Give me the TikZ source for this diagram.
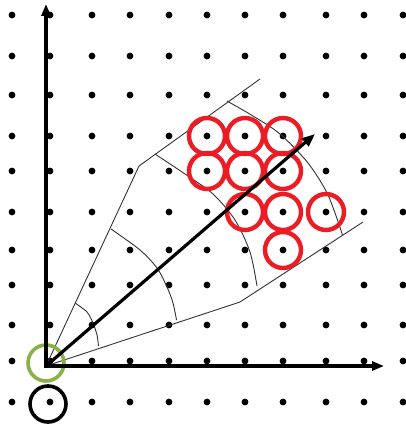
\documentclass[tikz,border=0pt]{standalone}
\usetikzlibrary{arrows.meta}
\definecolor{redc}{RGB}{236,28,36}
\definecolor{greenc}{RGB}{138,176,72}
\begin{document}
\begin{tikzpicture}[x=1pt,y=-1pt,
  axisline/.style={line width=3.6pt,-{Triangle[length=12pt,width=9pt]}},
  bigarrow/.style={line width=3.2pt,-{Triangle[length=13pt,width=10pt]}},
  thinline/.style={line width=0.9pt,black!80,line join=round},
  redcirc/.style={draw=redc,line width=4.4pt},
  ringstyle/.style={line width=3.6pt},
]
\useasboundingbox (0,0) rectangle (405,428);
\fill[white] (0,0) rectangle (405,428);
% dot grid
\foreach \x in {12,50,92,130,169,207,245,283,326,364,403}
  \foreach \y in {15,56,95,136,171,212,250,285,325,361,402}
    \fill (\x,\y) circle (3.4pt);
% key points
\coordinate (O) at (46,366);
\coordinate (ytip) at (46,4);
\coordinate (xtip) at (384,366);
\coordinate (atip) at (315,134);
\coordinate (ku) at (139,166);
\coordinate (kl) at (240,302);
\coordinate (eu) at (260,79);
\coordinate (el) at (363,222);
% fan boundary
\draw[thinline] (O) -- (ku) -- (eu);
\draw[thinline] (O) -- (kl) -- (el);
% arcs
\draw[thinline] plot[smooth] coordinates {(75,303) (87,312) (93,323) (97,335) (98.5,346)};
\draw[thinline] plot[smooth] coordinates {(111,229) (140,250) (157,268) (167,287) (173,303) (176.5,320)};
\draw[thinline] plot[smooth] coordinates {(155,154) (185,174) (213,194) (235,220) (250,252) (257,286)};
\draw[thinline] plot[smooth] coordinates {(227,101) (253,116) (280,134) (308,163) (328,195) (342.5,235)};
% red circles
\foreach \p in {(207,136),(245,136),(283,136),(207,171),(245,171),(283,171),(245,212),(283,212),(326,212),(283,250)}
  \draw[redcirc] \p circle (18pt);
% origin rings
\draw[ringstyle,draw=greenc] (46,363) circle (18pt);
\draw[ringstyle,draw=black] (48,404) circle (18pt);
% axes and main arrow
\draw[axisline] ([yshift=-1.8pt]O) -- (ytip);
\draw[axisline] ([xshift=-1.8pt]O) -- (xtip);
\draw[bigarrow] (O) -- (atip);
\end{tikzpicture}
\end{document}
